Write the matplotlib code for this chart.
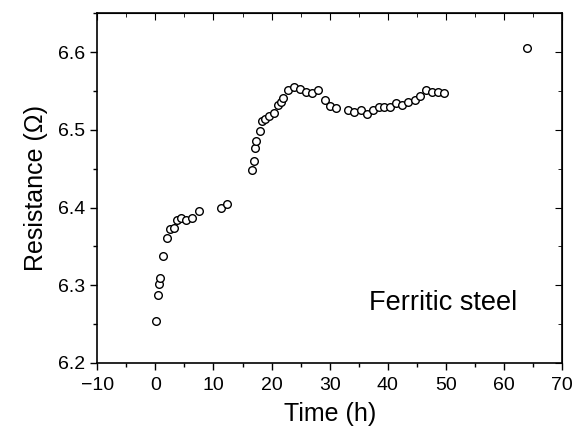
import matplotlib
matplotlib.use("Agg")
import matplotlib.pyplot as plt
from matplotlib.ticker import MultipleLocator

plt.rcParams["font.family"] = ["Liberation Sans", "DejaVu Sans"]

# time (h) and resistance (ohm)
time_h = [0.05, 0.4, 0.7, 0.8, 1.25, 2.05, 2.6, 3.15, 3.7, 4.35, 5.2, 6.35, 7.5,
          11.3, 12.3,
          16.6, 17.0, 17.2, 17.4, 18.0, 18.4, 18.9, 19.6, 20.4, 21.1, 21.6, 22.0,
          22.9, 23.9, 24.9, 25.9, 27.0, 28.0, 29.1, 30.05, 31.1,
          33.2, 34.2, 35.3, 36.4, 37.4, 38.4, 39.4, 40.4, 41.4, 42.4, 43.5,
          44.6, 45.5, 46.6, 47.6, 48.6, 49.7,
          63.9]
resistance = [6.254, 6.287, 6.302, 6.309, 6.337, 6.361, 6.373, 6.374, 6.384,
              6.387, 6.384, 6.386, 6.396,
              6.400, 6.404,
              6.448, 6.460, 6.477, 6.486, 6.498, 6.511, 6.514, 6.518, 6.522,
              6.532, 6.536, 6.541,
              6.551, 6.555, 6.553, 6.549, 6.547, 6.551, 6.538, 6.531, 6.528,
              6.526, 6.523, 6.525, 6.520, 6.526, 6.529, 6.529, 6.529, 6.534,
              6.532, 6.536, 6.539, 6.543, 6.551, 6.549, 6.549, 6.548,
              6.606]

x_ticks = list(range(-10, 71, 10))
y_ticks = [6.2, 6.3, 6.4, 6.5, 6.6]

fig = plt.figure(figsize=(5.75, 4.32), dpi=100)
ax = fig.add_axes([0.169, 0.160, 0.809, 0.809])

ax.plot(time_h, resistance, linestyle="none", marker="o", markersize=5.5,
        markerfacecolor="white", markeredgecolor="black", markeredgewidth=1.0)

ax.set_xlim(-10, 70)
ax.set_ylim(6.2, 6.65)
ax.set_xticks(x_ticks)
ax.set_yticks(y_ticks)
ax.xaxis.set_minor_locator(MultipleLocator(5))
ax.yaxis.set_minor_locator(MultipleLocator(0.05))

ax.tick_params(which="both", direction="out", labelsize=14, width=1.0)
ax.tick_params(which="major", length=5)
ax.tick_params(which="minor", length=3)
ax.tick_params(axis="x", which="major", pad=5)
for side in ax.spines.values():
    side.set_linewidth(1.2)

# inward ticks on top and right, no labels
ax_top = ax.secondary_xaxis("top")
ax_top.set_xticks(x_ticks)
ax_top.xaxis.set_minor_locator(MultipleLocator(5))
ax_top.tick_params(which="both", direction="in", labeltop=False)
ax_top.tick_params(which="major", length=5)
ax_top.tick_params(which="minor", length=3)
ax_right = ax.secondary_yaxis("right")
ax_right.set_yticks(y_ticks)
ax_right.yaxis.set_minor_locator(MultipleLocator(0.05))
ax_right.tick_params(which="both", direction="in", labelright=False)
ax_right.tick_params(which="major", length=5)
ax_right.tick_params(which="minor", length=3)

ax.set_xlabel("Time (h)", fontsize=18, labelpad=6)
ax.set_ylabel("Resistance (\u03a9)", fontsize=18, labelpad=7)
ax.text(36.8, 6.268, "Ferritic steel", fontsize=19.5, ha="left", va="baseline")

fig.savefig("out.png", dpi=100)
